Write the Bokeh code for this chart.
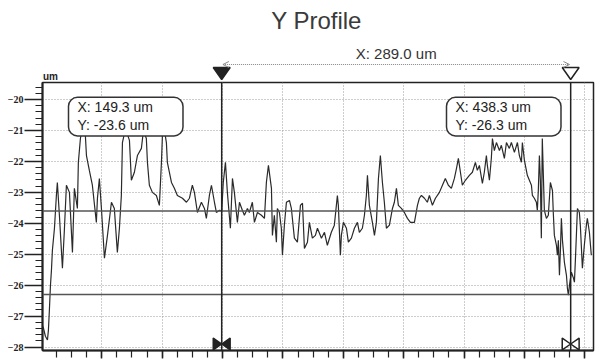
from bokeh.plotting import figure
from bokeh.layouts import column
from bokeh.models import (Range1d, SingleIntervalTicker, Span, Label, Arrow,
                          OpenHead, CustomJSTickFormatter)
from bokeh.embed import file_html
from bokeh.resources import INLINE

# ---------------- data (um) ----------------
pos_um = [
    0, 1.7, 3.3, 5.0, 5.8, 6.6, 7.5, 8.3, 9.1, 10.8,
    12.4, 13.2, 14.9, 17.4, 19.0, 20.7, 23.2, 25.7, 27.3, 29.8,
    30.6, 32.3, 33.9, 36.4, 37.3, 39.7, 42.2, 45.5, 46.4, 48.0,
    49.7, 52.2, 54.7, 58.0, 60.4, 62.9, 64.6, 66.2, 67.1, 69.6,
    72.9, 74.5, 77.0, 79.5, 82.8, 84.5, 86.9, 87.8, 89.4, 91.9,
    95.2, 97.7, 99.4, 100.2, 101.9, 103.5, 104.3, 107.7, 110.1, 112.6,
    116.8, 120.1, 122.6, 125.0, 126.7, 129.2, 132.5, 135.0, 136.6, 139.1,
    140.8, 143.3, 144.9, 147.4, 149.3,
    150.6, 152.4, 154.0, 156.5, 158.2, 159.8,
    162.3, 164.0, 166.4, 168.1, 170.6, 172.2, 174.7, 176.4, 178.9, 182.2,
    184.7, 186.3, 188.0, 190.5, 191.3, 192.9, 194.6, 195.4, 197.1, 198.7,
    199.6, 201.2, 202.9, 205.4, 207.0, 209.5, 212.0, 214.5, 216.2, 217.8,
    220.3, 221.9, 224.4, 226.9, 228.6, 231.9, 234.4, 236.8, 240.1, 242.6,
    245.1, 245.9, 247.6, 248.4, 250.1, 252.6, 254.2, 256.7, 259.2, 261.7,
    263.3, 265.8, 267.5, 269.1, 270.0, 271.6, 274.1, 275.8, 277.4, 279.1,
    280.7, 282.4, 284.0, 285.7, 288.2, 290.7, 292.3, 294.0, 295.6, 298.1,
    300.6, 303.1, 305.6, 308.9, 311.4, 313.0, 314.7, 317.2, 319.6, 321.3,
    323.8, 326.3, 329.6, 332.1, 334.5, 337.0, 339.5, 342.0, 343.7, 345.3,
    347.0, 348.6, 351.1, 354.4, 356.9, 359.4, 361.0, 362.7, 365.2, 366.8,
    368.5, 369.3, 371.0, 372.6, 373.5, 375.1, 376.8, 379.3, 380.9, 383.4,
    385.1, 387.5, 389.2, 391.7, 394.2, 395.8, 397.5, 398.3, 400.0, 402.4,
    405.8, 406.6, 408.2, 409.9, 410.7, 411.5, 412.4, 413.2, 414.0, 414.8,
    416.5, 418.2, 419.8, 421.5, 423.2, 424.0, 424.8, 426.5, 427.3, 428.1,
    429.0, 429.8, 430.6, 431.5, 433.1, 434.8, 435.6, 436.4, 437.3, 438.9,
    440.6, 441.4, 442.2, 443.9, 445.5, 446.3, 448.0, 449.6, 451.3, 452.1,
    453.8, 455.4,
]

height_um = [
    -27.23, -27.39, -27.65, -27.77, -27.45, -26.81, -26.0, -25.52, -24.87, -24.16,
    -23.10, -22.68, -23.74, -25.45, -24.23, -22.77, -23.0, -24.94, -22.87, -23.52,
    -22.03, -21.26, -20.9, -21.16, -21.81, -22.29, -22.77, -23.97, -23.19, -22.55,
    -23.52, -25.13, -24.39, -23.32, -23.52, -24.94, -24.16, -23.10, -21.39, -20.94,
    -21.32, -22.61, -22.35, -21.81, -21.58, -21.0, -21.26, -22.03, -22.77, -23.0,
    -23.10, -23.42, -22.03, -21.16, -21.0, -21.39, -22.03, -22.68, -22.87, -23.10,
    -23.19, -23.32, -23.19, -22.77, -23.0, -23.65, -23.32, -23.52, -23.84, -23.10,
    -22.77, -23.32, -23.65, -23.58, -23.6,
    -22.68, -22.03, -23.0, -24.16, -22.55, -23.0,
    -23.97, -23.32, -23.58, -23.74, -23.52, -23.65, -23.32, -23.97, -23.65, -23.74,
    -23.84, -22.68, -22.13, -22.87, -24.39, -23.74, -24.61, -23.52, -23.65, -24.16,
    -25.03, -24.06, -23.32, -23.26, -23.52, -24.48, -24.61, -23.42, -23.35, -24.81,
    -24.61, -23.97, -24.48, -24.39, -24.16, -24.48, -24.29, -24.71, -24.29, -24.06,
    -23.10, -23.42, -25.03, -24.39, -23.97, -24.16, -24.61, -24.48, -24.16, -23.97,
    -24.29, -24.16, -23.74, -23.10, -22.45, -23.42, -23.97, -24.39, -23.97, -22.55,
    -21.81, -22.68, -23.32, -24.16, -24.06, -23.52, -23.32, -22.87, -23.42, -23.52,
    -23.65, -23.84, -23.97, -23.97, -23.42, -23.19, -23.10, -23.19, -23.32, -23.10,
    -23.42, -23.19, -23.0, -22.77, -22.55, -22.77, -22.87, -22.55, -22.23, -21.90,
    -22.35, -22.77, -22.61, -22.45, -22.35, -22.03, -22.29, -22.13, -22.71, -22.35,
    -21.81, -22.13, -22.61, -21.90, -21.26, -21.65, -21.39, -21.65, -21.48, -21.90,
    -21.39, -21.58, -21.39, -21.71, -21.39, -21.81, -22.03, -21.39, -21.97, -22.45,
    -22.77, -23.10, -23.19, -23.32, -23.58, -22.94, -21.81, -22.61, -24.48, -21.26,
    -23.58, -23.84, -23.74, -22.68, -22.94, -23.74, -24.39, -24.71, -25.03, -24.55,
    -25.68, -24.87, -23.84, -24.55, -25.26, -25.68, -26.10, -26.32, -26.0, -25.58,
    -25.77, -25.90, -25.19, -23.52, -23.65, -24.06, -25.45, -24.71, -24.06, -23.84,
    -24.29, -25.03,
]

cursor_x = [149.3, 438.3]
cursor_y = [-23.6, -26.3]
distance_text = "X: 289.0 um"
title_text = "Y Profile"
unit_text = "um"

n = min(len(pos_um), len(height_um))
pos_um = pos_um[:n]
height_um = height_um[:n]

FONT = "Liberation Sans"
DARK = "#222222"

W = 597
TOP_H = 81
BOT_H = 281
LEFT = 42
RIGHT = 4
X0, X1 = 0.9, 457.2
k = (W - LEFT - RIGHT) / (X1 - X0)   # px per um
xr = Range1d(X0, X1)

# ---------------- top strip (title, distance, cursor flags) ----------------
top = figure(width=W, height=TOP_H, output_backend="svg", toolbar_location=None,
             x_range=xr, y_range=Range1d(TOP_H, 0),
             x_axis_type=None, y_axis_type=None,
             min_border_left=LEFT, min_border_right=RIGHT, min_border_top=0,
             min_border_bottom=0)
top.outline_line_color = None
top.background_fill_color = "white"
top.border_fill_color = "white"
top.grid.visible = False

top.add_layout(Label(x=X0 + 274 / k, y=20, text=title_text,
                     text_align="center", text_baseline="middle",
                     text_font=FONT, text_font_size="24px",
                     text_color="#3a3a3a"))

top.add_layout(Label(x=(cursor_x[0] + cursor_x[1]) / 2, y=53,
                     text=distance_text, text_align="center",
                     text_baseline="middle", text_font=FONT,
                     text_font_size="15px", text_color="#333333"))

top.add_layout(Arrow(x_start=cursor_x[0] + 1, y_start=64,
                     x_end=cursor_x[1] - 1, y_end=64,
                     start=OpenHead(size=6, line_color="#888888", line_width=1),
                     end=OpenHead(size=6, line_color="#888888", line_width=1),
                     line_color="#888888", line_dash="1 1", line_width=1.2))

tri_x = [[cx - 7, cx + 7, cx] for cx in cursor_x]
tri_y = [[67, 67, 79] for _ in cursor_x]
top.patches(tri_x, tri_y, fill_color=[DARK, "white"], line_color=DARK,
            line_width=1.5)

top.add_layout(Label(x=X0 + 0.5 / k, y=76, text=unit_text, text_align="left",
                     text_baseline="middle", text_font=FONT,
                     text_font_size="10px", text_font_style="bold",
                     text_color=DARK))

# ---------------- main plot ----------------
p = figure(width=W, height=BOT_H, output_backend="svg", toolbar_location=None,
           x_range=xr, y_range=Range1d(-28.11, -19.45),
           min_border_left=LEFT, min_border_right=RIGHT, min_border_top=1,
           min_border_bottom=12)
p.background_fill_color = "white"
p.border_fill_color = "white"
p.outline_line_color = DARK
p.outline_line_width = 1.5

ybot = p.y_range.start

p.yaxis.ticker = SingleIntervalTicker(interval=1, num_minor_ticks=5)
p.ygrid.ticker = SingleIntervalTicker(interval=1)
p.xaxis.ticker = SingleIntervalTicker(interval=50, num_minor_ticks=4)
p.xgrid.ticker = SingleIntervalTicker(interval=50)

for ax in (p.xaxis[0], p.yaxis[0]):
    ax.axis_line_color = DARK
    ax.axis_line_width = 2
    ax.major_tick_line_color = DARK
    ax.minor_tick_line_color = DARK
    ax.major_tick_line_width = 1.5
    ax.minor_tick_line_width = 1.2
    ax.major_tick_in = 0
    ax.minor_tick_in = 0

p.yaxis.major_tick_out = 18
p.yaxis.minor_tick_out = 7
p.yaxis.major_label_text_font = "Liberation Sans Narrow"
p.yaxis.major_label_text_font_size = "10px"
p.yaxis.major_label_text_font_style = "bold"
p.yaxis.major_label_text_color = DARK
p.yaxis.major_label_standoff = 1

p.xaxis.major_tick_out = 8
p.xaxis.minor_tick_out = 7
p.xaxis.formatter = CustomJSTickFormatter(code="return ''")
p.xaxis.major_label_standoff = 0

for g in (p.xgrid[0], p.ygrid[0]):
    g.grid_line_color = "#9a9a9a"
    g.grid_line_dash = "1 2"
    g.grid_line_width = 1

p.line(pos_um, height_um, line_color="#2a2a2a", line_width=1.2)

for cy in cursor_y:
    p.add_layout(Span(location=cy, dimension="width", line_color="#555555",
                      line_width=1.5))
for cx in cursor_x:
    p.add_layout(Span(location=cx, dimension="height", line_color=DARK,
                      line_width=1.5))

# bow-tie markers at the bottom of each cursor
bx, by = [], []
for cx in cursor_x:
    bx.append([cx - 7, cx - 7, cx])
    by.append([ybot + 0.02, ybot + 0.40, ybot + 0.21])
    bx.append([cx + 7, cx + 7, cx])
    by.append([ybot + 0.02, ybot + 0.40, ybot + 0.21])
p.patches(bx, by, fill_color=[DARK, DARK, "white", "white"],
          line_color=DARK, line_width=1.5)

# callouts
box_left = [X0 + 26 / k, X0 + 404 / k]
for bxl, cx, cy in zip(box_left, cursor_x, cursor_y):
    p.add_layout(Label(x=bxl, y=-19.93,
                       text=f"X: {cx:.1f} um\nY: {cy:.1f} um",
                       text_align="left", text_baseline="top",
                       text_font=FONT, text_font_size="14px",
                       text_color=DARK, text_line_height=1.1,
                       background_fill_color="white", background_fill_alpha=1.0,
                       border_line_color="#333333", border_line_width=1.5,
                       border_radius=9,
                       padding=dict(left=9, right=30, top=2, bottom=3)))

layout = column(top, p, spacing=0)
open("out.html", "w").write(file_html(layout, INLINE))
